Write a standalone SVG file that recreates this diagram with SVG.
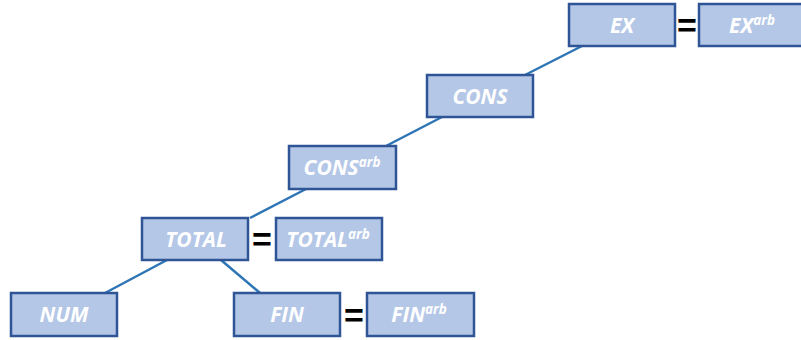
<svg xmlns="http://www.w3.org/2000/svg" width="801" height="340" viewBox="0 0 801 340">
<style>
.box{fill:#B4C7E7;stroke:#2F5597;stroke-width:2.5}
.lbl{font-family:"Open Sans","Liberation Sans",sans-serif;font-size:21px;font-weight:bold;font-style:italic;fill:#FFFFFF;text-anchor:middle}
.sup{font-size:13.5px}
.eq{font-family:"Liberation Sans",sans-serif;font-size:34px;font-weight:bold;fill:#000000;text-anchor:middle}
.con{stroke:#2E75B6;stroke-width:2.5;fill:none}
</style>
<rect width="801" height="340" fill="#FFFFFF"/>
<g id="connectors">
<line class="con" x1="582" y1="46" x2="525" y2="75"/>
<line class="con" x1="442" y1="117" x2="386" y2="146"/>
<line class="con" x1="306" y1="189" x2="250" y2="218"/>
<line class="con" x1="167" y1="260" x2="105" y2="293"/>
<line class="con" x1="221" y1="260" x2="260" y2="293"/>
</g>
<g id="EX"><rect class="box" x="569" y="4" width="106" height="42"/><text class="lbl" x="622" y="33">EX</text></g>
<g id="EXarb"><rect class="box" x="699" y="4" width="106" height="42"/><text class="lbl" x="752" y="33">EX<tspan class="sup" dy="-8">arb</tspan></text></g>
<g id="CONS"><rect class="box" x="427" y="75" width="106" height="42"/><text class="lbl" x="480" y="104">CONS</text></g>
<g id="CONSarb"><rect class="box" x="289" y="146" width="107" height="43"/><text class="lbl" x="342" y="175">CONS<tspan class="sup" dy="-8">arb</tspan></text></g>
<g id="TOTAL"><rect class="box" x="142" y="218" width="106" height="42"/><text class="lbl" x="196" y="247">TOTAL</text></g>
<g id="TOTALarb"><rect class="box" x="276" y="218" width="106" height="42"/><text class="lbl" x="328" y="247">TOTAL<tspan class="sup" dy="-8">arb</tspan></text></g>
<g id="NUM"><rect class="box" x="11" y="293" width="106" height="43"/><text class="lbl" x="64" y="322">NUM</text></g>
<g id="FIN"><rect class="box" x="234" y="293" width="106" height="43"/><text class="lbl" x="287" y="322">FIN</text></g>
<g id="FINarb"><rect class="box" x="367" y="293" width="107" height="43"/><text class="lbl" x="419" y="322">FIN<tspan class="sup" dy="-8">arb</tspan></text></g>
<g id="equals">
<text class="eq" x="687" y="37">=</text>
<text class="eq" x="262" y="251">=</text>
<text class="eq" x="354" y="327">=</text>
</g>
</svg>
